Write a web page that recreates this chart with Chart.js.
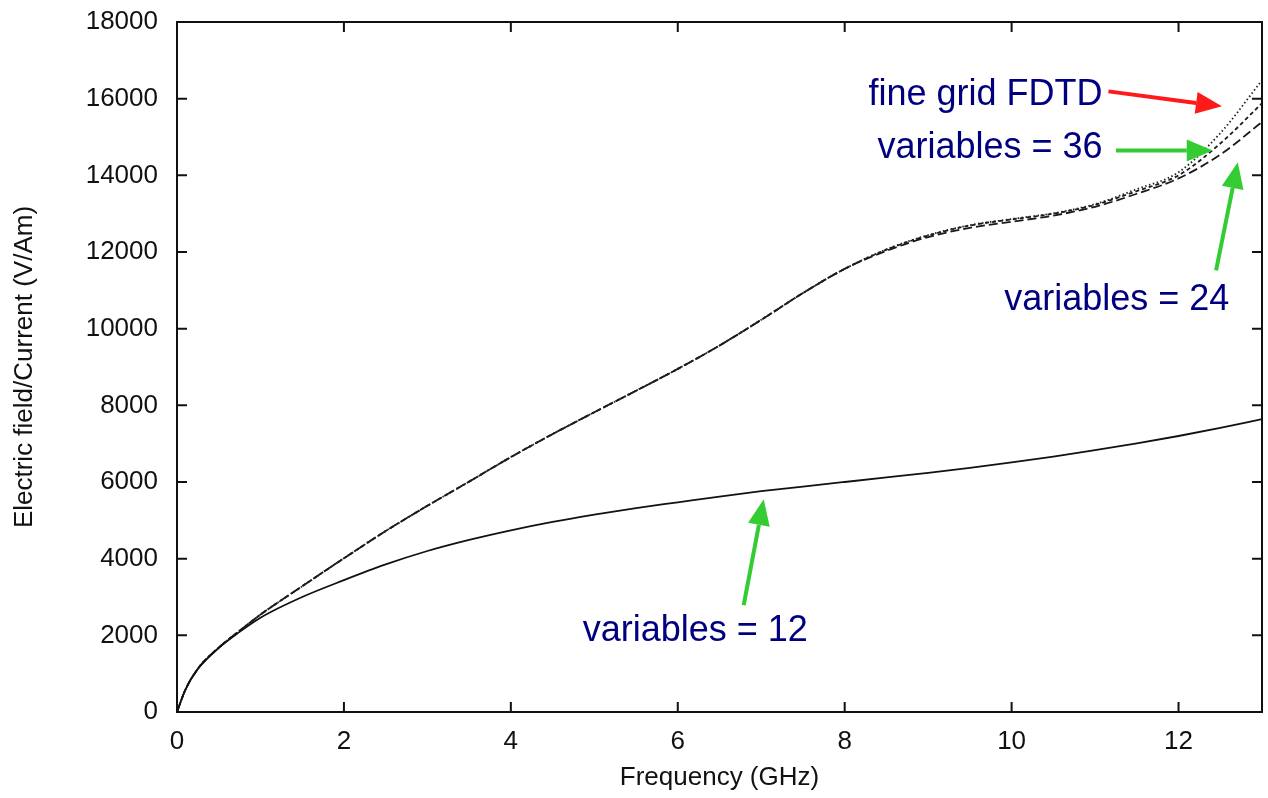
<!DOCTYPE html>
<html>
<head>
<meta charset="utf-8">
<script src="https://cdn.jsdelivr.net/npm/chart.js@4/dist/chart.umd.min.js"></script>
<style>
  html, body { margin: 0; padding: 0; background: #fff; }
  canvas { display: block; }
</style>
</head>
<body>
<canvas id="fieldChart" width="1268" height="798"></canvas>
<script>
// frequency samples (GHz)
var freqs = [0, 0.1, 0.25, 0.5, 0.75, 1, 1.5, 2, 2.5, 3, 3.5, 4, 4.5, 5, 5.5, 6,
             6.5, 7, 7.5, 8, 8.5, 9, 9.5, 10, 10.5, 11, 11.5, 12, 12.5, 13];

// electric field / current (V/Am)
var fineGrid = [0, 580, 1130, 1680, 2120, 2540, 3280, 4010, 4720, 5380, 6010, 6650, 7250, 7820, 8380, 8950,
                9560, 10230, 10930, 11560, 12070, 12440, 12700, 12860, 13010, 13250, 13640, 14080, 15100, 16480];
var vars36   = [0, 580, 1130, 1680, 2120, 2540, 3280, 4010, 4720, 5380, 6010, 6650, 7250, 7820, 8380, 8950,
                9560, 10230, 10930, 11560, 12060, 12430, 12690, 12850, 13000, 13230, 13590, 14000, 14830, 15880];
var vars24   = [0, 580, 1130, 1680, 2120, 2540, 3280, 4010, 4720, 5380, 6010, 6650, 7250, 7820, 8380, 8950,
                9560, 10230, 10930, 11560, 12030, 12390, 12630, 12790, 12950, 13180, 13520, 13920, 14540, 15390];
var vars12   = [0, 580, 1120, 1670, 2090, 2460, 3000, 3440, 3850, 4200, 4490, 4740, 4960, 5150, 5320, 5470,
                5620, 5760, 5880, 6000, 6120, 6240, 6370, 6510, 6660, 6830, 7010, 7200, 7410, 7640];

var xTicks = [0, 2, 4, 6, 8, 10, 12];
var yTicks = [0, 2000, 4000, 6000, 8000, 10000, 12000, 14000, 16000, 18000];

// callouts, in data units
var notes = [
  { text: "fine grid FDTD", x: 11.09, y: 15830, align: "right" },
  { text: "variables = 36", x: 11.09, y: 14450, align: "right" },
  { text: "variables = 24", x: 11.26, y: 10480, align: "center" },
  { text: "variables = 12", x: 6.21,  y: 1850,  align: "center" }
];
var arrows = [
  { from: [11.16, 16190], to: [12.52, 15800], color: "#ff1a1a" },
  { from: [11.25, 14650], to: [12.41, 14650], color: "#33cc33" },
  { from: [12.45, 11520], to: [12.71, 14340], color: "#33cc33" },
  { from: [6.79, 2790],   to: [7.03, 5550],   color: "#33cc33" }
];

function pts(ys) {
  return freqs.map(function (f, i) { return { x: f, y: ys[i] }; });
}

var fontFamily = "'Liberation Sans', Arial, Helvetica, sans-serif";

// box round the plot with inward ticks on all four sides
var framePlugin = {
  id: 'frame',
  afterDatasetsDraw: function (chart) {
    var ctx = chart.ctx, a = chart.chartArea;
    var xs = chart.scales.x, ys = chart.scales.y;
    var len = 10;
    ctx.save();
    ctx.strokeStyle = '#111';
    ctx.lineWidth = 2;
    ctx.strokeRect(a.left, a.top, a.right - a.left, a.bottom - a.top);
    ctx.beginPath();
    xTicks.forEach(function (v) {
      var px = xs.getPixelForValue(v);
      ctx.moveTo(px, a.bottom); ctx.lineTo(px, a.bottom - len);
      ctx.moveTo(px, a.top); ctx.lineTo(px, a.top + len);
    });
    yTicks.forEach(function (v) {
      var py = ys.getPixelForValue(v);
      ctx.moveTo(a.left, py); ctx.lineTo(a.left + len, py);
      ctx.moveTo(a.right, py); ctx.lineTo(a.right - len, py);
    });
    ctx.stroke();
    ctx.restore();
  }
};

var notePlugin = {
  id: 'notes',
  afterDraw: function (chart) {
    var ctx = chart.ctx;
    var xs = chart.scales.x, ys = chart.scales.y;
    ctx.save();
    arrows.forEach(function (ar) {
      var x1 = xs.getPixelForValue(ar.from[0]), y1 = ys.getPixelForValue(ar.from[1]);
      var x2 = xs.getPixelForValue(ar.to[0]),   y2 = ys.getPixelForValue(ar.to[1]);
      var ang = Math.atan2(y2 - y1, x2 - x1);
      var head = 26, half = 11;
      var bx = x2 - head * Math.cos(ang), by = y2 - head * Math.sin(ang);
      ctx.strokeStyle = ar.color;
      ctx.fillStyle = ar.color;
      ctx.lineWidth = 4;
      ctx.beginPath();
      ctx.moveTo(x1, y1);
      ctx.lineTo(bx, by);
      ctx.stroke();
      ctx.beginPath();
      ctx.moveTo(x2, y2);
      ctx.lineTo(bx + half * Math.sin(ang), by - half * Math.cos(ang));
      ctx.lineTo(bx - half * Math.sin(ang), by + half * Math.cos(ang));
      ctx.closePath();
      ctx.fill();
    });
    ctx.fillStyle = '#00007f';
    ctx.font = '36px ' + fontFamily;
    ctx.textBaseline = 'alphabetic';
    notes.forEach(function (n) {
      ctx.textAlign = n.align;
      ctx.fillText(n.text, xs.getPixelForValue(n.x), ys.getPixelForValue(n.y));
    });
    ctx.restore();
  }
};

var lineBase = { borderWidth: 1.8, pointRadius: 0, fill: false, cubicInterpolationMode: 'monotone' };

var fieldChart = new Chart(document.getElementById('fieldChart'), {
  type: 'line',
  data: {
    datasets: [
      Object.assign({ label: 'variables = 12', data: pts(vars12), borderColor: '#111' }, lineBase),
      Object.assign({ label: 'fine grid FDTD', data: pts(fineGrid), borderColor: '#222', borderDash: [1.5, 2.5] }, lineBase),
      Object.assign({ label: 'variables = 36', data: pts(vars36), borderColor: '#1a1a1a', borderDash: [4, 3] }, lineBase),
      Object.assign({ label: 'variables = 24', data: pts(vars24), borderColor: '#1a1a1a', borderDash: [9, 4] }, lineBase)
    ]
  },
  options: {
    responsive: false,
    animation: false,
    layout: { padding: { top: 22, right: 6, left: 0, bottom: 0 } },
    plugins: { legend: { display: false }, tooltip: { enabled: false } },
    scales: {
      x: {
        type: 'linear',
        min: 0,
        max: 13,
        grid: { display: false, drawTicks: false },
        border: { display: false },
        afterBuildTicks: function (scale) {
          scale.ticks = xTicks.map(function (v) { return { value: v }; });
        },
        afterFit: function (scale) {
          scale.height = 86;
          scale.paddingLeft = 0;
          scale.paddingRight = 0;
        },
        ticks: { color: '#111', padding: 14, font: { size: 26, family: fontFamily } },
        title: {
          display: true,
          text: 'Frequency (GHz)',
          color: '#111',
          padding: { top: 0, bottom: 5 },
          font: { size: 26, family: fontFamily }
        }
      },
      y: {
        type: 'linear',
        min: 0,
        max: 18000,
        grid: { display: false, drawTicks: false },
        border: { display: false },
        afterBuildTicks: function (scale) {
          scale.ticks = yTicks.map(function (v) { return { value: v }; });
        },
        afterFit: function (scale) {
          scale.width = 177;
          scale.paddingTop = 0;
          scale.paddingBottom = 0;
        },
        ticks: { color: '#111', padding: 19, font: { size: 26, family: fontFamily },
                 callback: function (v) { return String(v); } },
        title: {
          display: true,
          text: 'Electric field/Current (V/Am)',
          color: '#111',
          padding: { top: 9, bottom: 0 },
          font: { size: 26, family: fontFamily }
        }
      }
    }
  },
  plugins: [framePlugin, notePlugin]
});
</script>
</body>
</html>
